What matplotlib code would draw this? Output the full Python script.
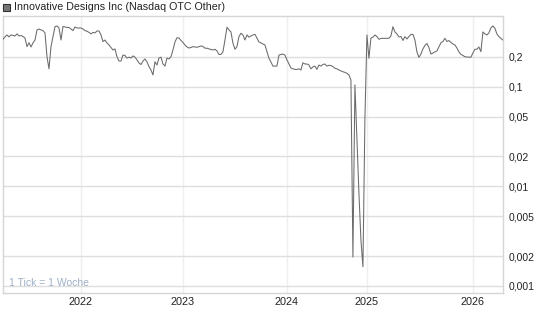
import matplotlib
matplotlib.use("Agg")
import matplotlib.pyplot as plt
from matplotlib.ticker import FixedLocator, FixedFormatter, NullLocator
from matplotlib.patches import Rectangle

plt.rcParams['font.family'] = ['Liberation Sans', 'DejaVu Sans']

title = "Innovative Designs Inc (Nasdaq OTC Other)"
note = "1 Tick = 1 Woche"

# weekly closing prices (one value per week)
prices = [
    0.301, 0.318, 0.333, 0.318, 0.333, 0.329, 0.325, 0.341, 0.325, 0.329,   # 0-9
    0.321, 0.310, 0.254, 0.278, 0.252, 0.277, 0.296, 0.374, 0.382, 0.374,   # 10-19
    0.368, 0.349, 0.201, 0.152, 0.254, 0.320, 0.403, 0.410, 0.391, 0.296,   # 20-29
    0.405, 0.400, 0.396, 0.396, 0.382, 0.368, 0.400, 0.391, 0.391, 0.391,   # 30-39
    0.382, 0.368, 0.363, 0.353, 0.341, 0.353, 0.349, 0.365, 0.365, 0.333,   # 40-49
    0.285, 0.296, 0.277, 0.264, 0.249, 0.235, 0.241, 0.201, 0.182, 0.182,   # 50-59
    0.209, 0.207, 0.195, 0.199, 0.195, 0.205, 0.199, 0.187, 0.174, 0.168,   # 60-69
    0.182, 0.191, 0.179, 0.160, 0.148, 0.132, 0.179, 0.166, 0.195, 0.199,   # 70-79
    0.170, 0.162, 0.195, 0.191, 0.201, 0.235, 0.283, 0.312, 0.310, 0.293,   # 80-89
    0.280, 0.264, 0.252, 0.246, 0.249, 0.254, 0.252, 0.250, 0.254, 0.258,   # 90-99
    0.255, 0.245, 0.245, 0.241, 0.238, 0.235, 0.239, 0.230, 0.212, 0.212,   # 100-109
    0.226, 0.296, 0.398, 0.374, 0.357, 0.275, 0.239, 0.254, 0.320, 0.346,   # 110-119
    0.333, 0.296, 0.333, 0.316, 0.325, 0.333, 0.337, 0.310, 0.283, 0.277,   # 120-129
    0.270, 0.264, 0.226, 0.194, 0.178, 0.162, 0.162, 0.162, 0.209, 0.212,   # 130-139
    0.214, 0.209, 0.187, 0.170, 0.155, 0.152, 0.150, 0.150, 0.152, 0.148,   # 140-149
    0.175, 0.170, 0.170, 0.166, 0.152, 0.159, 0.162, 0.150, 0.166, 0.162,   # 150-159
    0.168, 0.170, 0.162, 0.165, 0.164, 0.160, 0.154, 0.152, 0.148, 0.145,   # 160-169
    0.142, 0.140, 0.137, 0.132, 0.117, 0.00195, 0.105, 0.0307, 0.0086, 0.0029,  # 170-179
    0.00156, 0.0488, 0.333, 0.194, 0.310, 0.316, 0.333, 0.320, 0.301, 0.307,    # 180-189
    0.308, 0.308, 0.308, 0.308, 0.325, 0.403, 0.357, 0.341, 0.318, 0.321,   # 190-199
    0.293, 0.320, 0.303, 0.321, 0.337, 0.337, 0.296, 0.225, 0.198, 0.214,   # 200-209
    0.241, 0.261, 0.273, 0.249, 0.214, 0.219, 0.225, 0.230, 0.252, 0.277,   # 210-219
    0.286, 0.308, 0.286, 0.292, 0.280, 0.270, 0.264, 0.246, 0.225, 0.212,   # 220-229
    0.207, 0.201, 0.200, 0.199, 0.199, 0.219, 0.239, 0.239, 0.252, 0.226,   # 230-239
    0.357, 0.341, 0.333, 0.349, 0.391, 0.410, 0.389, 0.341, 0.320, 0.308,   # 240-249
    0.296,                                                                  # 250
]

year_labels = ["2022", "2023", "2024", "2025", "2026"]
year_start_week = [39, 90, 142, 182, 235]

y_ticks = [0.001, 0.002, 0.005, 0.01, 0.02, 0.05, 0.1, 0.2]
y_tick_labels = ["0,001", "0,002", "0,005", "0,01", "0,02", "0,05", "0,1", "0,2"]

fig = plt.figure(figsize=(5.45, 3.27), dpi=100)
ax = fig.add_axes([3 / 545, 1 - 293 / 327, (503.3 - 3) / 545, (293 - 16) / 327])

weeks = list(range(len(prices)))
ax.plot(weeks, prices, color="#6a6a6a", lw=0.75, zorder=3)

ax.set_yscale("log")
ax.set_ylim(0.00085, 0.516)
ax.set_xlim(0, 250.2)

ax.yaxis.set_major_locator(FixedLocator(y_ticks))
ax.yaxis.set_major_formatter(FixedFormatter(y_tick_labels))
ax.yaxis.set_minor_locator(NullLocator())
ax.yaxis.tick_right()
ax.xaxis.set_major_locator(FixedLocator(year_start_week))
ax.xaxis.set_major_formatter(FixedFormatter(year_labels))

ax.tick_params(axis="y", length=0, pad=4, labelsize=7.5, labelcolor="#222222")
ax.tick_params(axis="x", length=0, pad=3, labelsize=7.8, labelcolor="#222222")

ax.grid(True, which="major", axis="y", color="#dedede", lw=1.0, zorder=0)
ax.grid(True, which="major", axis="x", color="#efefef", lw=1.0, zorder=0)

for s in ax.spines.values():
    s.set_color("#d6d6d6")
    s.set_linewidth(1.0)

ax.text(0.012, 0.035, note, transform=ax.transAxes, fontsize=7.5,
        color="#9fb0c8", ha="left", va="center", zorder=4)

# legend marker + title
fig.patches.append(Rectangle((3 / 545, 1 - 11 / 327), 7 / 545, 7 / 327,
                             transform=fig.transFigure, facecolor="#777777",
                             edgecolor="#333333", lw=0.8))
fig.text(14 / 545, 1 - 7 / 327, title, fontsize=7.7, color="#222222",
         ha="left", va="center")

fig.savefig("out.png", dpi=100)
